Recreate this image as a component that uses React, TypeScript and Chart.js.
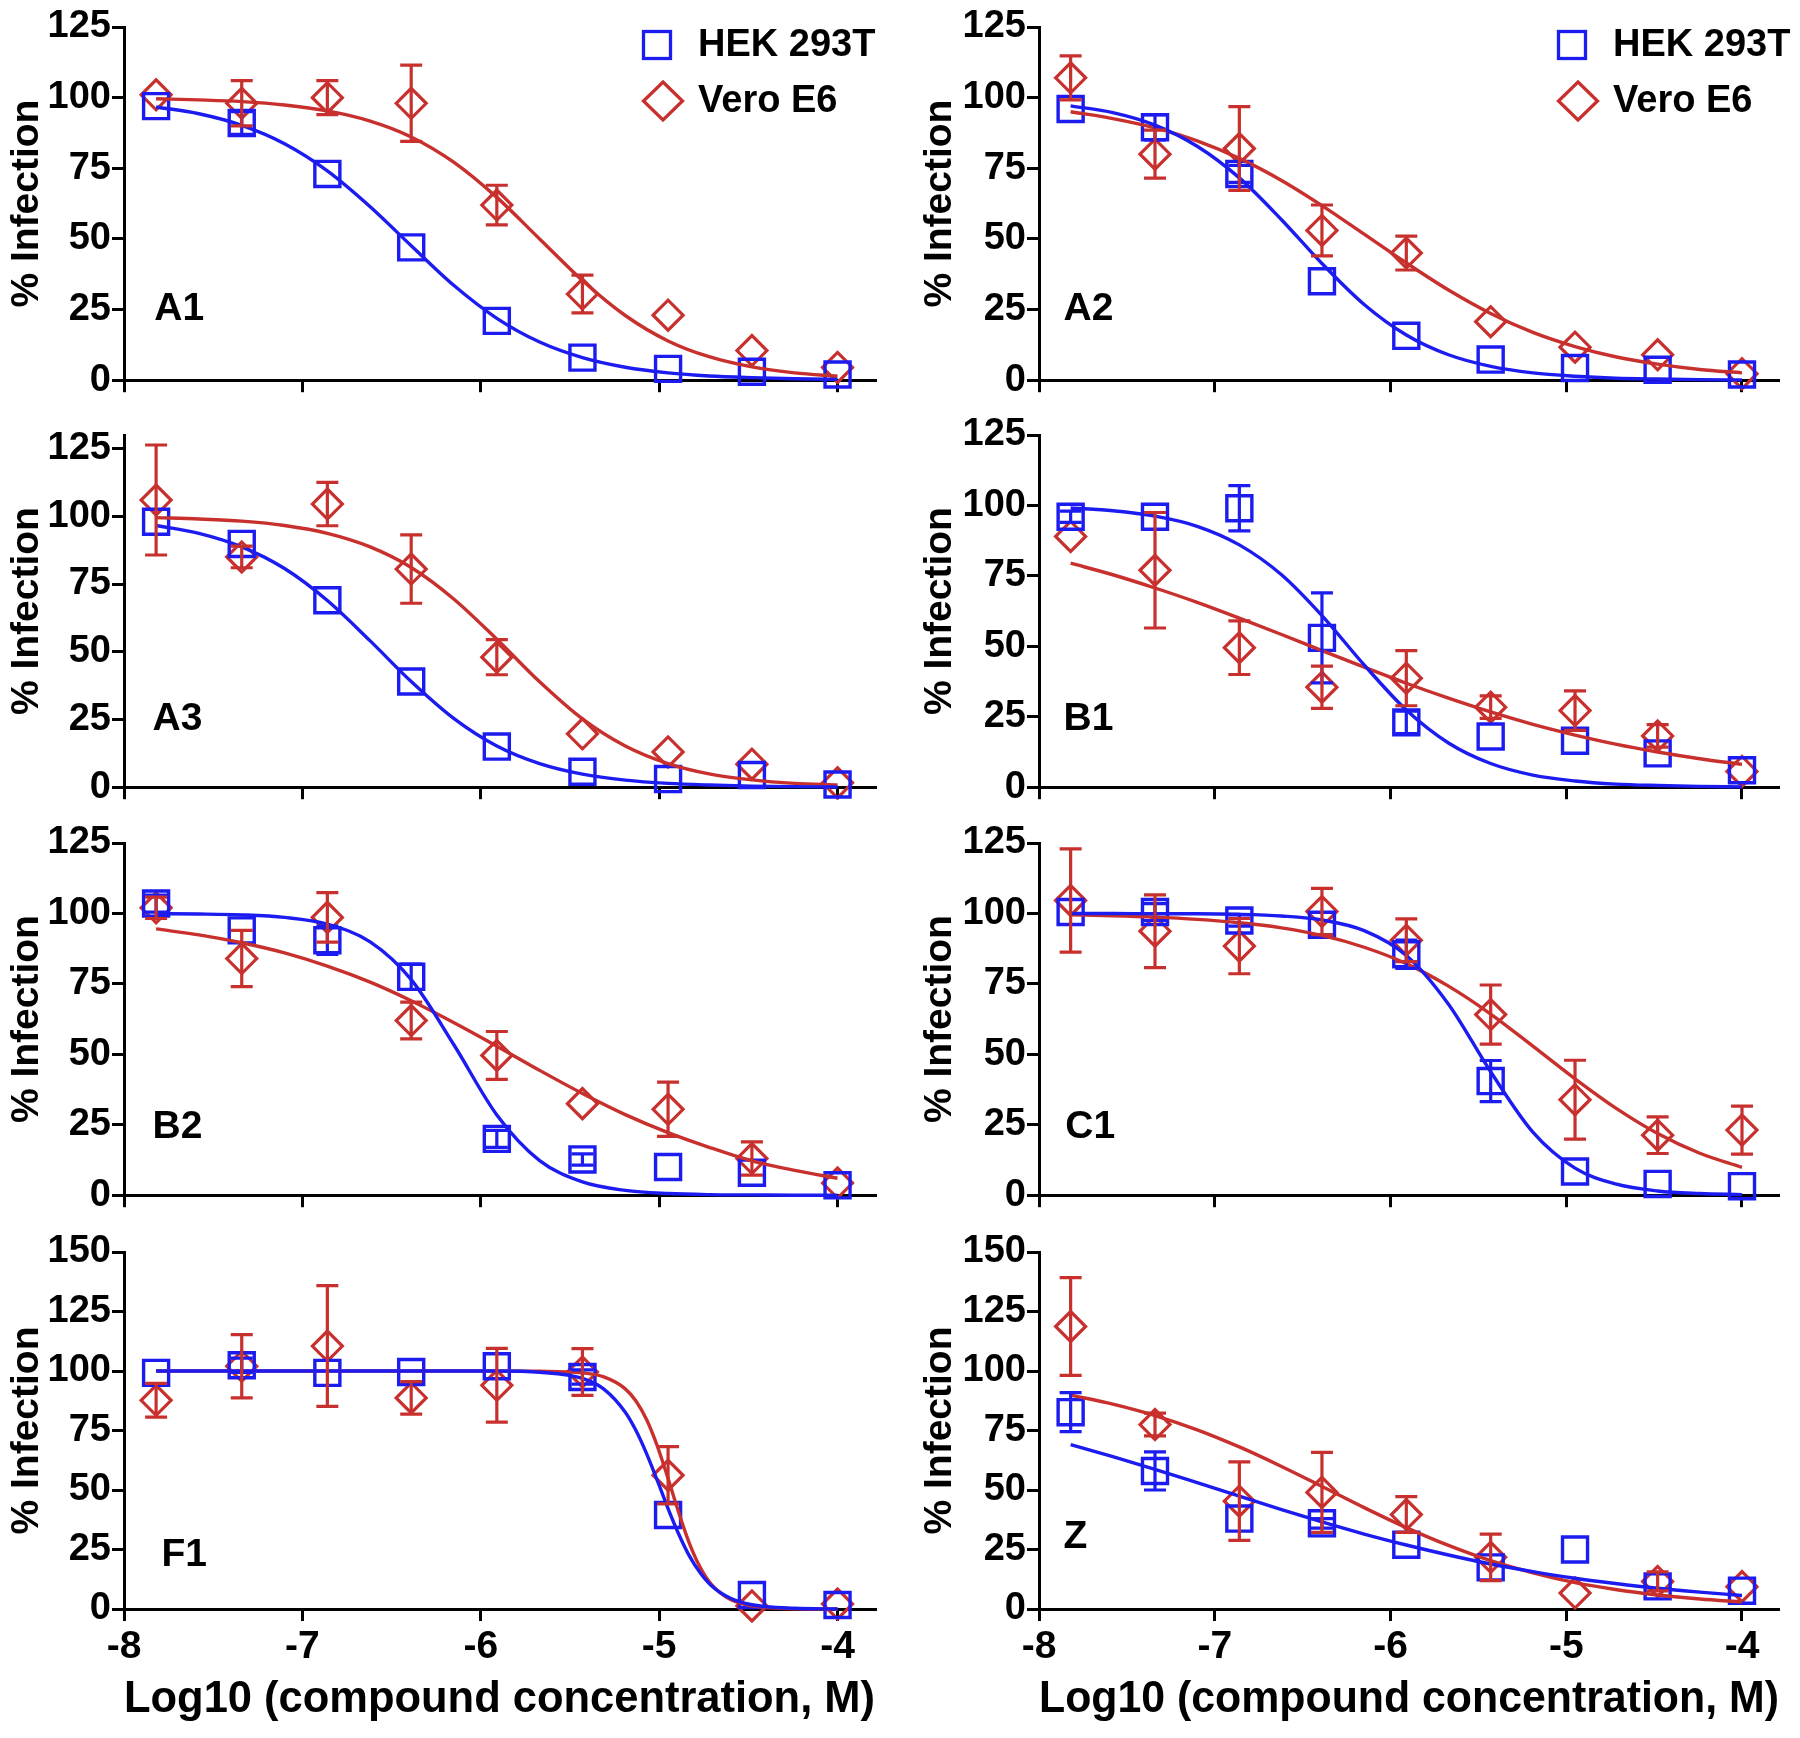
import React, { useEffect, useRef } from 'react';
import { Chart, registerables } from 'chart.js';

Chart.register(...registerables);

// ---------- data (log10 molar concentration, % infection) ----------
const doseLog = [-7.82, -7.34, -6.86, -6.39, -5.91, -5.43, -4.95, -4.48, -4.0];
const fitX = [-7.82, -7.58, -7.34, -7.1, -6.86, -6.62, -6.39, -6.15, -5.91, -5.67, -5.43, -5.19, -4.95, -4.72, -4.48, -4.24, -4.0];
const fitXF1 = [-7.82, -7.34, -6.86, -6.39, -5.91, -5.67, -5.43, -5.31, -5.19, -5.13, -5.07, -5.01, -4.95, -4.89, -4.83, -4.77, -4.71, -4.6, -4.48, -4.24, -4.0];
const xTickValues = [-8, -7, -6, -5, -4];
const yTickStep = 25;

// A1
const hekA1 = [97, 91, 73, 47, 21, 8, 4, 3, 2];
const hekA1Err = [0, 4, 0, 0, 0, 0, 0, 0, 0];
const veroA1 = [101, 98, 100, 98, 62, 30.5, 23, 10.5, 4.5];
const veroA1Err = [0, 8, 6, 13.5, 7, 6.7, 0, 0, 0];
const hekA1Fit = [96.7, 94.3, 90.2, 83.7, 74.1, 61.4, 47.6, 33.5, 21.9, 13.5, 8.0, 4.6, 2.6, 1.5, 0.9, 0.5, 0.3];
const veroA1Fit = [99.6, 99.2, 98.6, 97.4, 95.3, 91.7, 86.1, 77.1, 64.7, 50, 35.3, 22.9, 13.9, 8.3, 4.7, 2.6, 1.4];

// A2
const hekA2 = [96, 89.5, 73, 35, 15.7, 7.3, 4.3, 3.7, 2];
const hekA2Err = [0, 4.5, 3, 0, 0, 0, 0, 0, 0];
const veroA2 = [107, 80, 82, 53, 45, 20.7, 11.7, 9, 2.3];
const veroA2Err = [7.8, 8.5, 14.8, 9, 6, 0, 0, 0, 0];
const hekA2Fit = [97.1, 94.7, 90.3, 82.8, 71.6, 56.8, 41.3, 26.8, 16.0, 9.0, 4.9, 2.6, 1.4, 0.7, 0.4, 0.2, 0.1];
const veroA2Fit = [95.0, 92.6, 89.3, 84.7, 78.5, 70.7, 61.8, 51.7, 41.5, 31.9, 23.6, 16.9, 11.9, 8.3, 5.7, 3.8, 2.6];

// A3
const hekA3 = [98, 89.8, 69, 39, 15, 5.7, 3, 4.5, 1];
const hekA3Err = [0, 0, 0, 0, 0, 0, 0, 0, 0];
const veroA3 = [106, 85, 104.5, 80.5, 48, 19.7, 13, 8.5, 1.6];
const veroA3Err = [20.3, 4, 8, 12.6, 6.5, 0, 0, 0, 0];
const hekA3Fit = [96.6, 93.7, 88.7, 80.7, 68.9, 54.0, 39.0, 25.3, 15.2, 8.7, 4.8, 2.6, 1.4, 0.8, 0.4, 0.2, 0.1];
const veroA3Fit = [99.5, 99.0, 98.2, 96.6, 93.7, 88.7, 81.1, 69.4, 54.6, 38.9, 25.2, 15.2, 8.7, 4.9, 2.7, 1.4, 0.8];

// B1
const hekB1 = [96, 96, 99, 53, 23, 18, 16.5, 12, 6];
const hekB1Err = [2, 0, 8, 16, 4, 0, 0, 0, 0];
const veroB1 = [89, 77, 49.5, 35.5, 38.7, 28.4, 27.2, 18.2, 5.6];
const veroB1Err = [0, 20.5, 9.5, 7.5, 9.8, 4, 7, 4, 0];
const hekB1Fit = [99.1, 98.1, 96.2, 92.6, 86.0, 75.4, 60.9, 43.4, 27.4, 15.7, 8.4, 4.3, 2.2, 1.1, 0.6, 0.3, 0.1];
const veroB1Fit = [79.5, 75.4, 70.7, 65.6, 60.0, 54.2, 48.5, 42.6, 36.9, 31.6, 26.7, 22.3, 18.5, 15.3, 12.5, 10.1, 8.1];

// B2
const hekB2 = [103.5, 94, 90.5, 77.5, 20, 12.7, 10, 8, 3.5];
const hekB2Err = [3, 0, 5, 4.5, 3, 2, 0, 0, 0];
const veroB2 = [102, 84, 98.6, 62, 49.6, 32.5, 30.5, 13, 4.3];
const veroB2Err = [3.8, 10, 8.8, 6.5, 8.5, 0, 9.6, 5.9, 0];
const hekB2Fit = [99.9, 99.8, 99.5, 98.6, 96.2, 89.9, 76.5, 53.3, 28.5, 12.3, 4.7, 1.7, 0.6, 0.2, 0.1, 0, 0];
const veroB2Fit = [94.5, 92.4, 89.6, 86.0, 81.3, 75.6, 69.0, 61.2, 52.9, 44.3, 36.1, 28.6, 22.2, 17.0, 12.2, 8.8, 6.0];

// C1
const hekC1 = [100.5, 100.5, 97.5, 96, 85.5, 40.5, 8.4, 4, 3.2];
const hekC1Err = [0, 3, 2, 0, 5, 7.3, 0, 0, 0];
const veroC1 = [104.6, 93.7, 88.4, 100.7, 90.5, 64.1, 33.9, 21.3, 23.1];
const veroC1Err = [18.3, 12.9, 9.8, 8.2, 7.6, 10.5, 14, 6.5, 8.5];
const hekC1Fit = [100, 100, 99.9, 99.9, 99.7, 99.1, 97.7, 93.9, 85.1, 67.8, 43.8, 22.4, 9.6, 4.0, 1.5, 0.6, 0.2];
const veroC1Fit = [99.5, 99.2, 98.7, 97.9, 96.7, 94.9, 92.2, 88.0, 82.2, 74.2, 64.3, 52.9, 41.3, 31.0, 21.9, 14.9, 9.9];

// F1
const hekF1 = [99.2, 102.4, 99.2, 99.6, 102, 97.5, 39.5, 5.9, 1.7];
const hekF1Err = [0, 3, 0, 0, 0, 3, 0, 0, 0];
const veroF1 = [87.7, 102, 110.5, 88.7, 94, 99.6, 56.2, 1.3, 2.1];
const veroF1Err = [7.1, 13.3, 25.4, 6.8, 15.5, 9.8, 12, 0, 0];
const hekF1Fit = [100, 100, 100, 100, 100, 99.5, 96.9, 92.4, 82.7, 75.0, 65.2, 53.9, 42.2, 31.4, 22.2, 15.2, 10.0, 4.5, 1.8, 0.3, 0];
const veroF1Fit = [100, 100, 100, 100, 100, 99.9, 99.2, 97.5, 92.5, 87.4, 79.5, 68.4, 54.8, 40.5, 27.5, 17.5, 10.6, 4.0, 1.3, 0.1, 0];

// Z
const hekZ = [82.7, 58, 38, 36, 27, 17.5, 25, 9.5, 7.7];
const hekZErr = [8.2, 8, 0, 2, 0, 0, 0, 0, 0];
const veroZ = [118.7, 77.5, 45.3, 49, 39.7, 21.7, 6.7, 11.6, 9.4];
const veroZErr = [20.5, 4.8, 16.5, 16.8, 7.5, 9.8, 0, 4, 0];
const hekZFit = [69.1, 64.0, 58.7, 53.1, 47.4, 41.8, 36.6, 31.5, 26.9, 22.7, 18.9, 15.7, 12.9, 10.7, 8.7, 7.1, 5.7];
const veroZFit = [89.9, 86.1, 81.3, 75.3, 68.1, 59.9, 51.5, 42.6, 34.2, 26.7, 20.3, 15.2, 11.1, 8.2, 5.9, 4.2, 3.0];

const seriesNames = ['HEK 293T', 'Vero E6'];
const xTitle = 'Log10 (compound concentration, M)';
const yTitle = '% Infection';

// ---------- styling / layout ----------
const FONT = "'Liberation Sans', Arial, Helvetica, sans-serif";
const BLUE = '#1c1cf0';
const RED = '#c8302e';
const ROW_TOP = [27, 435, 843, 1252];
const ROW_BOTTOM = [384, 791, 1199, 1609];
const COL_LEFT = [0, 900];
const Y_AXIS_W = [124, 139];
const PAD_RIGHT = [25, 7];
const Y_TITLE_PAD = [4, 17];
const TOP_PAD = 27;

type Panel = {
  name: string; row: number; col: number; yMax: number; labelX: number; labelY: number; legend: boolean;
  fx: number[]; hek: number[]; hekErr: number[]; vero: number[]; veroErr: number[]; hekFit: number[]; veroFit: number[];
};

const panels: Panel[] = [
  { name: 'A1', row: 0, col: 0, yMax: 125, labelX: -7.83, labelY: 25, legend: true, fx: fitX, hek: hekA1, hekErr: hekA1Err, vero: veroA1, veroErr: veroA1Err, hekFit: hekA1Fit, veroFit: veroA1Fit },
  { name: 'A2', row: 0, col: 1, yMax: 125, labelX: -7.86, labelY: 25, legend: true, fx: fitX, hek: hekA2, hekErr: hekA2Err, vero: veroA2, veroErr: veroA2Err, hekFit: hekA2Fit, veroFit: veroA2Fit },
  { name: 'A3', row: 1, col: 0, yMax: 130, labelX: -7.84, labelY: 25, legend: false, fx: fitX, hek: hekA3, hekErr: hekA3Err, vero: veroA3, veroErr: veroA3Err, hekFit: hekA3Fit, veroFit: veroA3Fit },
  { name: 'B1', row: 1, col: 1, yMax: 125, labelX: -7.86, labelY: 24, legend: false, fx: fitX, hek: hekB1, hekErr: hekB1Err, vero: veroB1, veroErr: veroB1Err, hekFit: hekB1Fit, veroFit: veroB1Fit },
  { name: 'B2', row: 2, col: 0, yMax: 125, labelX: -7.84, labelY: 24, legend: false, fx: fitX, hek: hekB2, hekErr: hekB2Err, vero: veroB2, veroErr: veroB2Err, hekFit: hekB2Fit, veroFit: veroB2Fit },
  { name: 'C1', row: 2, col: 1, yMax: 125, labelX: -7.85, labelY: 24, legend: false, fx: fitX, hek: hekC1, hekErr: hekC1Err, vero: veroC1, veroErr: veroC1Err, hekFit: hekC1Fit, veroFit: veroC1Fit },
  { name: 'F1', row: 3, col: 0, yMax: 150, labelX: -7.79, labelY: 22.5, legend: false, fx: fitXF1, hek: hekF1, hekErr: hekF1Err, vero: veroF1, veroErr: veroF1Err, hekFit: hekF1Fit, veroFit: veroF1Fit },
  { name: 'Z', row: 3, col: 1, yMax: 150, labelX: -7.86, labelY: 30, legend: false, fx: fitX, hek: hekZ, hekErr: hekZErr, vero: veroZ, veroErr: veroZErr, hekFit: hekZFit, veroFit: veroZFit },
];

// ---------- plugins ----------
const errorBarPlugin = {
  id: 'errorBars',
  afterDatasetsDraw(chart: any) {
    const ctx = chart.ctx;
    const yScale = chart.scales.y;
    chart.data.datasets.forEach((ds: any, i: number) => {
      if (!ds.errors) return;
      const meta = chart.getDatasetMeta(i);
      ctx.save();
      ctx.strokeStyle = ds.borderColor;
      ctx.lineWidth = 3.2;
      meta.data.forEach((pt: any, j: number) => {
        const e = ds.errors[j];
        if (!e) return;
        const v = ds.data[j].y;
        const yT = yScale.getPixelForValue(v + e);
        const yB = yScale.getPixelForValue(v - e);
        const x = pt.x;
        ctx.beginPath();
        ctx.moveTo(x, yT); ctx.lineTo(x, yB);
        ctx.moveTo(x - 11, yT); ctx.lineTo(x + 11, yT);
        ctx.moveTo(x - 11, yB); ctx.lineTo(x + 11, yB);
        ctx.stroke();
      });
      ctx.restore();
    });
  },
};

const panelLabelPlugin = {
  id: 'panelLabel',
  afterDraw(chart: any, _args: any, opts: any) {
    if (!opts || !opts.text) return;
    const ctx = chart.ctx;
    const px = chart.scales.x.getPixelForValue(opts.x);
    const py = chart.scales.y.getPixelForValue(opts.y);
    ctx.save();
    ctx.font = `bold 39px ${FONT}`;
    ctx.fillStyle = '#000';
    ctx.textAlign = 'left';
    ctx.textBaseline = 'middle';
    ctx.fillText(opts.text, px, py);
    ctx.restore();
  },
};

const cellLegendPlugin = {
  id: 'cellLegend',
  afterDraw(chart: any, _args: any, opts: any) {
    if (!opts || !opts.show) return;
    const { ctx, chartArea } = chart;
    const ds = chart.data.datasets;
    const x0 = chartArea.left + 533;
    const y0 = chartArea.top + 18;
    const y1 = chartArea.top + 74;
    ctx.save();
    ctx.lineWidth = 3.3;
    ctx.strokeStyle = ds[2].borderColor;
    ctx.strokeRect(x0 - 13.5, y0 - 13.5, 27, 27);
    ctx.strokeStyle = ds[3].borderColor;
    ctx.beginPath();
    ctx.moveTo(x0 + 6, y1 - 19);
    ctx.lineTo(x0 + 25.5, y1);
    ctx.lineTo(x0 + 6, y1 + 19);
    ctx.lineTo(x0 - 13.5, y1);
    ctx.closePath();
    ctx.stroke();
    ctx.font = `bold 38px ${FONT}`;
    ctx.fillStyle = '#000';
    ctx.textAlign = 'left';
    ctx.textBaseline = 'middle';
    ctx.fillText(ds[2].label, x0 + 41, y0 + 1);
    ctx.fillText(ds[3].label, x0 + 41, y1 + 1);
    ctx.restore();
  },
};

function buildConfig(p: Panel): any {
  const isBottom = p.row === 3;
  const col = p.col;
  const pts = (ys: number[]) => doseLog.map((x, i) => ({ x, y: ys[i] }));
  const fit = (ys: number[]) => p.fx.map((x, i) => ({ x, y: ys[i] }));
  return {
    type: 'line',
    data: {
      datasets: [
        { label: seriesNames[0] + ' fit', data: fit(p.hekFit), borderColor: BLUE, borderWidth: 3.4, pointRadius: 0, cubicInterpolationMode: 'monotone', fill: false, clip: false },
        { label: seriesNames[1] + ' fit', data: fit(p.veroFit), borderColor: RED, borderWidth: 3.4, pointRadius: 0, cubicInterpolationMode: 'monotone', fill: false, clip: false },
        { label: seriesNames[0], data: pts(p.hek), errors: p.hekErr, showLine: false, pointStyle: 'rect', pointRadius: 17.7, pointBorderWidth: 3.4, borderColor: BLUE, pointBorderColor: BLUE, pointBackgroundColor: 'rgba(0,0,0,0)', backgroundColor: 'rgba(0,0,0,0)', clip: false },
        { label: seriesNames[1], data: pts(p.vero), errors: p.veroErr, showLine: false, pointStyle: 'rectRot', pointRadius: 15, pointBorderWidth: 3.2, borderColor: RED, pointBorderColor: RED, pointBackgroundColor: 'rgba(0,0,0,0)', backgroundColor: 'rgba(0,0,0,0)', clip: false },
      ],
    },
    options: {
      responsive: false,
      animation: false,
      events: [],
      layout: { padding: { top: TOP_PAD, right: PAD_RIGHT[col], bottom: 0, left: 0 } },
      plugins: {
        legend: { display: false },
        tooltip: { enabled: false },
        panelLabel: { text: p.name, x: p.labelX, y: p.labelY },
        cellLegend: { show: p.legend },
      },
      scales: {
        x: {
          type: 'linear',
          min: -8,
          max: -3.79,
          afterFit: (s: any) => { s.height = isBottom ? 129 : 20; },
          afterBuildTicks: (s: any) => { s.ticks = xTickValues.map((v) => ({ value: v })); },
          ticks: {
            display: isBottom,
            stepSize: 1,
            includeBounds: false,
            autoSkip: false,
            maxRotation: 0,
            padding: 3,
            color: '#000',
            font: { family: FONT, size: 39, weight: 'bold' },
          },
          grid: { drawOnChartArea: false, drawTicks: true, tickLength: 12, color: '#000', lineWidth: 3 },
          border: { display: true, color: '#000', width: 3 },
          title: {
            display: isBottom,
            text: xTitle,
            color: '#000',
            font: { family: FONT, size: 44, weight: 'bold' },
            padding: { top: 0, bottom: 12 },
          },
        },
        y: {
          type: 'linear',
          min: 0,
          max: p.yMax,
          afterFit: (s: any) => { s.width = Y_AXIS_W[col]; },
          ticks: {
            stepSize: yTickStep,
            includeBounds: false,
            autoSkip: false,
            padding: 1,
            color: '#000',
            font: { family: FONT, size: 38, weight: 'bold' },
          },
          grid: { drawOnChartArea: false, drawTicks: true, tickLength: 12, color: '#000', lineWidth: 3 },
          border: { display: true, color: '#000', width: 3 },
          title: {
            display: true,
            text: yTitle,
            color: '#000',
            font: { family: FONT, size: 39, weight: 'bold' },
            padding: { top: Y_TITLE_PAD[col], bottom: 0 },
          },
        },
      },
    },
    plugins: [errorBarPlugin, panelLabelPlugin, cellLegendPlugin],
  };
}

function PanelChart({ p }: { p: Panel }) {
  const ref = useRef<HTMLCanvasElement>(null);
  const top = ROW_TOP[p.row] - TOP_PAD;
  const height = p.row === 3 ? 1738 - top : TOP_PAD + (ROW_BOTTOM[p.row] - ROW_TOP[p.row]) + 20;
  useEffect(() => {
    if (!ref.current) return;
    const chart = new Chart(ref.current, buildConfig(p));
    return () => chart.destroy();
  }, [p]);
  return (
    <canvas
      ref={ref}
      width={900}
      height={height}
      style={{ position: 'absolute', left: COL_LEFT[p.col], top, width: 900, height, display: 'block' }}
    />
  );
}

export default function App() {
  return (
    <div style={{ position: 'absolute', left: 0, top: 0, width: 1800, height: 1738, background: '#fff', overflow: 'hidden' }}>
      {panels.map((p) => (
        <PanelChart key={p.name} p={p} />
      ))}
    </div>
  );
}
